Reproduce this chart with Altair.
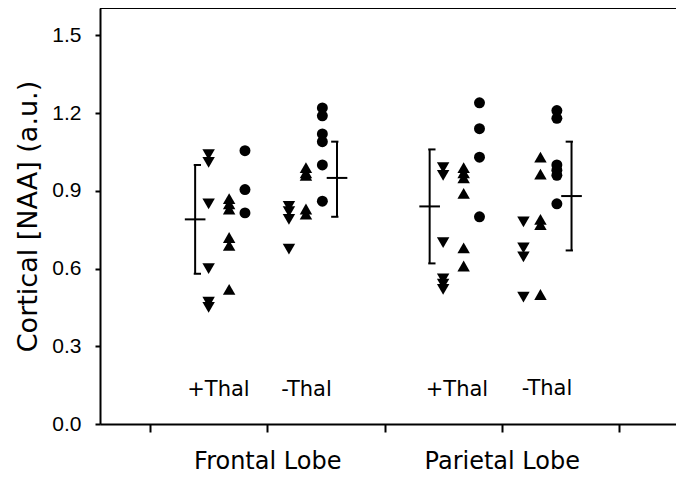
import altair as alt
import pandas as pd

# ---------------- data ----------------
lobes = ["Frontal Lobe", "Parietal Lobe"]
conditions = ["+Thal", "-Thal"]
marker_kinds = ["down", "up", "circle"]

fr_plus_down = [1.04, 1.01, 0.85, 0.60, 0.47, 0.45]
fr_plus_up = [0.87, 0.85, 0.83, 0.72, 0.69, 0.52]
fr_plus_circle = [1.055, 0.905, 0.815]

fr_minus_down = [0.84, 0.82, 0.79, 0.675]
fr_minus_up = [0.99, 0.97, 0.96, 0.83, 0.81]
fr_minus_circle = [1.22, 1.19, 1.12, 1.09, 1.00, 0.86]

pa_plus_down = [0.99, 0.96, 0.70, 0.56, 0.54, 0.52]
pa_plus_up = [0.99, 0.97, 0.95, 0.89, 0.68, 0.61]
pa_plus_circle = [1.24, 1.14, 1.03, 0.80]

pa_minus_down = [0.78, 0.68, 0.645, 0.49]
pa_minus_up = [1.03, 0.965, 0.79, 0.77, 0.50]
pa_minus_circle = [1.21, 1.18, 1.00, 0.98, 0.96, 0.85]

# group summaries: order Frontal+, Frontal-, Parietal+, Parietal-
group_means = [0.79, 0.95, 0.84, 0.88]
group_upper = [1.00, 1.09, 1.06, 1.09]
group_lower = [0.58, 0.80, 0.62, 0.67]

label_y = [0.131, 0.131, 0.131, 0.137]
y_ticks = [0.0, 0.3, 0.6, 0.9, 1.2, 1.5]

# ---------------- layout (not data) ----------------
W, H = 576, 416
YMAX = 1.606
XMIN, XMAX = -0.4264, 4.486
lobe_base = {"Frontal Lobe": 0.0, "Parietal Lobe": 2.0}
marker_offset = {
    "+Thal": {"down": 0.50, "up": 0.675, "circle": 0.81, "err": 0.385},
    "-Thal": {"down": 1.185, "up": 1.33, "circle": 1.47, "err": 1.595},
}
label_x = [0.584, 1.335, 2.618, 3.386]
cap_span = {"+Thal": (-0.012, 0.05), "-Thal": (-0.05, 0.012)}
mean_half = 0.088

series = {
    ("Frontal Lobe", "+Thal"): (fr_plus_down, fr_plus_up, fr_plus_circle),
    ("Frontal Lobe", "-Thal"): (fr_minus_down, fr_minus_up, fr_minus_circle),
    ("Parietal Lobe", "+Thal"): (pa_plus_down, pa_plus_up, pa_plus_circle),
    ("Parietal Lobe", "-Thal"): (pa_minus_down, pa_minus_up, pa_minus_circle),
}

rows = []
for (lobe, cond), lists in series.items():
    for kind, vals in zip(marker_kinds, lists):
        for v in vals:
            rows.append({"lobe": lobe, "cond": cond, "kind": kind,
                         "x": lobe_base[lobe] + marker_offset[cond][kind], "y": v})
pts = pd.DataFrame(rows)

err_rows = []
lab_rows = []
i = 0
for lobe in lobes:
    for cond in conditions:
        xe = lobe_base[lobe] + marker_offset[cond]["err"]
        c0, c1 = cap_span[cond]
        err_rows.append({"x": xe, "mean": group_means[i], "hi": group_upper[i], "lo": group_lower[i],
                         "cx0": xe + c0, "cx1": xe + c1,
                         "mx0": xe - mean_half, "mx1": xe + mean_half})
        lab_rows.append({"x": label_x[i], "y": label_y[i], "text": cond})
        i += 1
err = pd.DataFrame(err_rows)
labs = pd.DataFrame(lab_rows)

xs = alt.Scale(domain=[XMIN, XMAX], nice=False, zero=False)
ys = alt.Scale(domain=[0, YMAX], nice=False, zero=True)

label_expr = (f"datum.value == 1 ? '{lobes[0]}' : "
              f"(datum.value == 3 ? '{lobes[1]}' : '')")

x_axis = alt.Axis(values=[0, 1, 2, 3, 4], labelExpr=label_expr, title=None,
                  grid=False, tickSize=8, tickWidth=2, tickColor="black",
                  domainColor="black", domainWidth=2, labelFont="DejaVu Sans",
                  labelFontSize=24, labelColor="black", labelPadding=17,
                  labelOverlap=False, labelFlush=False)
y_axis = alt.Axis(values=y_ticks, format=".1f", title="Cortical [NAA] (a.u.)",
                  grid=False, tickSize=5, tickWidth=2, tickColor="black",
                  domainColor="black", domainWidth=2,
                  labelFont="Liberation Sans Narrow, Arial Narrow, Liberation Sans",
                  labelFontSize=21, labelColor="black", labelPadding=14,
                  titleFont="DejaVu Sans", titleFontSize=27, titleFontWeight="normal",
                  titleColor="black", titlePadding=9)

base = alt.Chart(pts)

axes_layer = base.mark_point(opacity=0).encode(
    x=alt.X("x:Q", scale=xs, axis=x_axis),
    y=alt.Y("y:Q", scale=ys, axis=y_axis),
)

def marker_layer(kind, shape, size):
    return base.transform_filter(alt.datum.kind == kind).mark_point(
        shape=shape, filled=True, color="black", opacity=1, size=size, strokeWidth=0
    ).encode(x=alt.X("x:Q", scale=xs), y=alt.Y("y:Q", scale=ys))

down_l = marker_layer("down", "triangle-down", 155)
up_l = marker_layer("up", "triangle-up", 155)
circ_l = marker_layer("circle", "circle", 120)

eb = alt.Chart(err)
vline = eb.mark_rule(color="black", strokeWidth=2).encode(
    x=alt.X("x:Q", scale=xs), y=alt.Y("lo:Q", scale=ys), y2="hi:Q")
cap_hi = eb.mark_rule(color="black", strokeWidth=2).encode(
    x=alt.X("cx0:Q", scale=xs), x2="cx1:Q", y=alt.Y("hi:Q", scale=ys))
cap_lo = eb.mark_rule(color="black", strokeWidth=2).encode(
    x=alt.X("cx0:Q", scale=xs), x2="cx1:Q", y=alt.Y("lo:Q", scale=ys))
mean_l = eb.mark_rule(color="black", strokeWidth=2).encode(
    x=alt.X("mx0:Q", scale=xs), x2="mx1:Q", y=alt.Y("mean:Q", scale=ys))

text_l = alt.Chart(labs).mark_text(font="DejaVu Sans", fontSize=21, color="black",
                                   align="center", baseline="middle").encode(
    x=alt.X("x:Q", scale=xs), y=alt.Y("y:Q", scale=ys), text="text:N")

top_line = alt.Chart(pd.DataFrame({"y": [YMAX]})).mark_rule(color="black", strokeWidth=2).encode(
    y=alt.Y("y:Q", scale=ys), x=alt.value(0), x2=alt.value(W))

chart = alt.layer(axes_layer, top_line, vline, cap_hi, cap_lo, mean_l,
                  down_l, up_l, circ_l, text_l).properties(
    width=W, height=H,
    padding={"left": 92, "top": 0, "right": 0, "bottom": 50},
    autosize=alt.AutoSizeParams(type="none"),
).configure_view(stroke=None).configure(background="white")

chart.save("out.html", embed_options={"renderer": "svg", "actions": False})
